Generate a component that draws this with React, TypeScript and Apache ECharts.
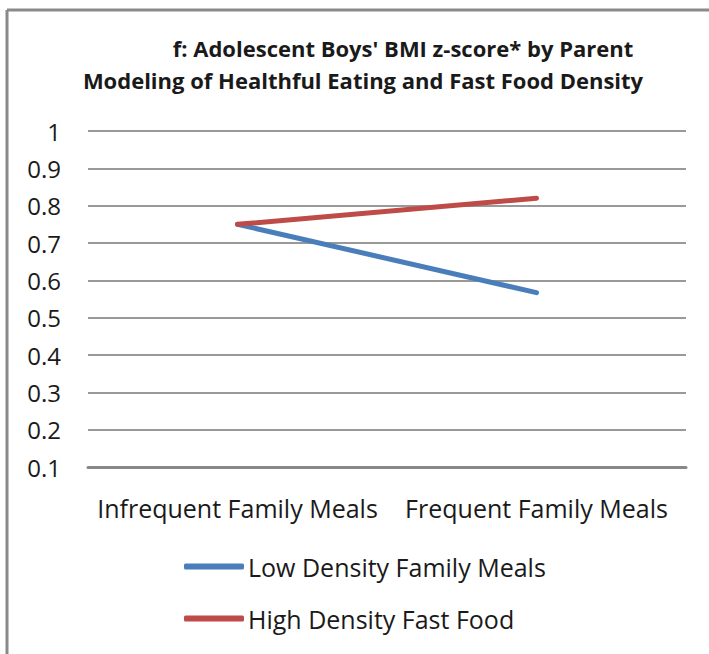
import React, { useEffect, useRef } from "react";
import * as echarts from "echarts";

const categories = ["Infrequent Family Meals", "Frequent Family Meals"];
const lowDensity = [0.75, 0.567];
const highDensity = [0.75, 0.82];
const seriesNames = ["Low Density Family Meals", "High Density Fast Food"];
const titleLines = [
  "f: Adolescent Boys' BMI z-score* by Parent",
  "Modeling of Healthful Eating and Fast Food Density",
];

const FONT = "'Open Sans', Lato, sans-serif";
const TEXT = "#1a1a1a";

export default function App() {
  const ref = useRef<HTMLDivElement>(null);
  useEffect(() => {
    document.body.style.margin = "0";
    const chart = echarts.init(ref.current!, null, { renderer: "svg" });
    chart.setOption({
      animation: false,
      backgroundColor: "#ffffff",
      textStyle: { fontFamily: FONT },
      grid: { left: 88, right: 23, top: 131, height: 336 },
      graphic: [
        { type: "line", shape: { x1: 7, y1: 10, x2: 709, y2: 10 }, style: { stroke: "#8a8a8a", lineWidth: 3 } },
        { type: "line", shape: { x1: 7, y1: 10, x2: 7, y2: 654 }, style: { stroke: "#8a8a8a", lineWidth: 3 } },
        {
          type: "text",
          x: 403,
          y: 48,
          style: { text: titleLines[0], font: `bold 22px ${FONT}`, fill: TEXT, align: "center", verticalAlign: "middle" },
        },
        {
          type: "text",
          x: 363,
          y: 80,
          style: { text: titleLines[1], font: `bold 22px ${FONT}`, fill: TEXT, align: "center", verticalAlign: "middle" },
        },
      ],
      legend: {
        orient: "vertical",
        left: 179,
        top: 549,
        itemWidth: 60,
        itemHeight: 6,
        itemGap: 27,
        data: [
          { name: seriesNames[0], icon: "roundRect" },
          { name: seriesNames[1], icon: "roundRect" },
        ],
        textStyle: { fontSize: 25, color: TEXT, fontFamily: FONT, padding: [0, 0, 0, -1], lineHeight: 25 },
      },
      xAxis: {
        type: "category",
        data: categories,
        boundaryGap: true,
        axisLine: { show: true, lineStyle: { color: "#888888", width: 3 } },
        axisTick: { show: false },
        axisLabel: { interval: 0, fontSize: 25, color: TEXT, margin: 28, fontFamily: FONT },
      },
      yAxis: {
        type: "value",
        min: 0.1,
        max: 1,
        interval: 0.1,
        axisLine: { show: false },
        axisTick: { show: false },
        axisLabel: {
          fontSize: 24,
          color: TEXT,
          margin: 27,
          fontFamily: FONT,
          formatter: (v: number) => String(Math.round(v * 10) / 10),
        },
        splitLine: { lineStyle: { color: "#999999", width: 2 } },
      },
      series: [
        {
          name: seriesNames[0],
          type: "line",
          data: lowDensity,
          symbol: "none",
          lineStyle: { color: "#4a7ebb", width: 5, cap: "round" },
          itemStyle: { color: "#4a7ebb" },
        },
        {
          name: seriesNames[1],
          type: "line",
          data: highDensity,
          symbol: "none",
          lineStyle: { color: "#be4b48", width: 5, cap: "round" },
          itemStyle: { color: "#be4b48" },
        },
      ],
    });
    return () => chart.dispose();
  }, []);
  return <div ref={ref} style={{ position: "fixed", left: 0, top: 0, width: 709, height: 654 }} />;
}
